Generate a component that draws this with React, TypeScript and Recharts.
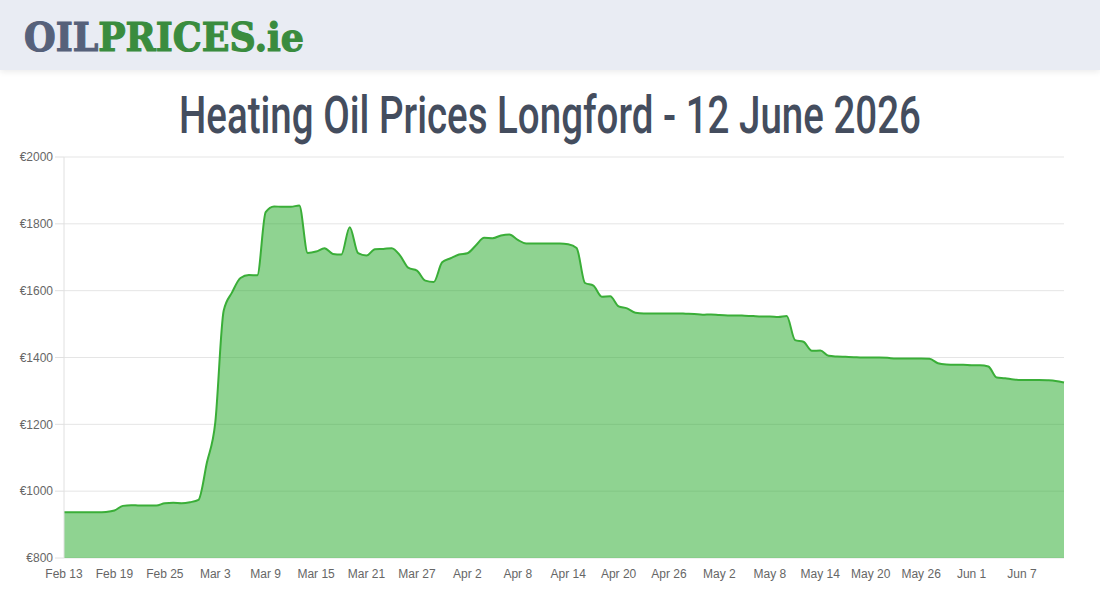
import { AreaChart, Area, XAxis, YAxis, CartesianGrid } from "recharts";

// ─────────────────────────────────────────────
//  Heating oil prices – Longford, daily, Feb 13 → Jun 12
// ─────────────────────────────────────────────

const DATES = [
  "Feb 13", "Feb 14", "Feb 15", "Feb 16", "Feb 17", "Feb 18", "Feb 19", "Feb 20",
  "Feb 21", "Feb 22", "Feb 23", "Feb 24", "Feb 25", "Feb 26", "Feb 27", "Feb 28",
  "Mar 1", "Mar 2", "Mar 3", "Mar 4", "Mar 5", "Mar 6", "Mar 7", "Mar 8",
  "Mar 9", "Mar 10", "Mar 11", "Mar 12", "Mar 13", "Mar 14", "Mar 15", "Mar 16",
  "Mar 17", "Mar 18", "Mar 19", "Mar 20", "Mar 21", "Mar 22", "Mar 23", "Mar 24",
  "Mar 25", "Mar 26", "Mar 27", "Mar 28", "Mar 29", "Mar 30", "Mar 31", "Apr 1",
  "Apr 2", "Apr 3", "Apr 4", "Apr 5", "Apr 6", "Apr 7", "Apr 8", "Apr 9",
  "Apr 10", "Apr 11", "Apr 12", "Apr 13", "Apr 14", "Apr 15", "Apr 16", "Apr 17",
  "Apr 18", "Apr 19", "Apr 20", "Apr 21", "Apr 22", "Apr 23", "Apr 24", "Apr 25",
  "Apr 26", "Apr 27", "Apr 28", "Apr 29", "Apr 30", "May 1", "May 2", "May 3",
  "May 4", "May 5", "May 6", "May 7", "May 8", "May 9", "May 10", "May 11",
  "May 12", "May 13", "May 14", "May 15", "May 16", "May 17", "May 18", "May 19",
  "May 20", "May 21", "May 22", "May 23", "May 24", "May 25", "May 26", "May 27",
  "May 28", "May 29", "May 30", "May 31", "Jun 1", "Jun 2", "Jun 3", "Jun 4",
  "Jun 5", "Jun 6", "Jun 7", "Jun 8", "Jun 9", "Jun 10", "Jun 11", "Jun 12",
];

// € per 1000L, one value per day
const PRICES = [
  937, 937, 937, 937, 937, 938, 942, 956,
  958, 957, 957, 957, 964, 965, 964, 967,
  974, 1085, 1205, 1540, 1595, 1638, 1647, 1646,
  1835, 1852, 1851, 1851, 1855, 1713, 1717, 1727,
  1710, 1708, 1790, 1712, 1705, 1724, 1725, 1727,
  1705, 1668, 1660, 1630, 1626, 1685, 1697, 1708,
  1712, 1735, 1758, 1757, 1765, 1768, 1752, 1741,
  1741, 1741, 1741, 1741, 1739, 1728, 1623, 1615,
  1582, 1583, 1553, 1547, 1534, 1532, 1532, 1532,
  1532, 1532, 1531, 1530, 1528, 1529, 1527, 1526,
  1526, 1525, 1524, 1523, 1523, 1521, 1524, 1452,
  1447, 1420, 1421, 1405, 1403, 1402, 1401, 1400,
  1400, 1400, 1399, 1397, 1397, 1397, 1397, 1396,
  1383, 1379, 1378, 1378, 1377, 1377, 1373, 1340,
  1338, 1334, 1333, 1333, 1333, 1332, 1330, 1325,
];

const Y_TICKS = [800, 1000, 1200, 1400, 1600, 1800, 2000];

const TITLE = "Heating Oil Prices Longford - 12 June 2026";

const data = DATES.map((date, i) => ({ date, price: PRICES[i] }));

const AXIS_TEXT = { fontSize: 12, fill: "#666666", fontFamily: "'Liberation Sans', Arial, sans-serif" };

function Header() {
  return (
    <div
      style={{
        position: "absolute",
        top: 0,
        left: 0,
        width: 1100,
        height: 70,
        background: "#e9ecf3",
        boxShadow: "0 2px 6px rgba(0,0,0,0.08)",
      }}
    >
      <svg width={1100} height={70} style={{ display: "block" }}>
        <text
          x={24}
          y={51}
          textLength={280}
          lengthAdjust="spacingAndGlyphs"
          style={{ fontFamily: "'DejaVu Serif', serif", fontWeight: 700, fontSize: 40 }}
        >
          <tspan fill="#56617a" stroke="#56617a" strokeWidth={1.2}>OIL</tspan>
          <tspan fill="#3a8c3e" stroke="#3a8c3e" strokeWidth={1.2}>PRICES.ie</tspan>
        </text>
      </svg>
    </div>
  );
}

export default function App() {
  return (
    <div style={{ position: "absolute", top: 0, left: 0, width: 1100, height: 600, background: "#fff", overflow: "hidden" }}>
      <AreaChart
        width={1100}
        height={600}
        data={data}
        margin={{ top: 157, right: 36, left: 0, bottom: 12 }}
      >
        <CartesianGrid stroke="#e5e5e5" vertical={false} />
        <XAxis
          dataKey="date"
          interval={5}
          tick={AXIS_TEXT}
          tickLine={false}
          axisLine={false}
          tickSize={8}
          tickMargin={3}
          height={30}
        />
        <YAxis
          domain={[800, 2000]}
          ticks={Y_TICKS}
          tickFormatter={(v: number) => `€${v}`}
          tick={AXIS_TEXT}
          tickLine={{ stroke: "#e0e0e0" }}
          axisLine={{ stroke: "#e0e0e0" }}
          tickSize={9}
          tickMargin={2}
          width={64}
        />
        <Area
          type="monotone"
          dataKey="price"
          stroke="#3aae38"
          strokeWidth={2}
          fill="rgb(40,170,45)"
          fillOpacity={0.52}
          dot={false}
          isAnimationActive={false}
        />
      </AreaChart>

      <Header />

      {/* page title: condensed look via horizontal squeeze + vertical stretch */}
      <svg width={1100} height={80} style={{ position: "absolute", top: 80, left: 0 }}>
        <text
          x={0}
          y={0}
          transform="translate(179 53) scale(1 1.3)"
          textLength={742}
          lengthAdjust="spacingAndGlyphs"
          fill="#444d5e"
          style={{ fontFamily: "Roboto, sans-serif", fontWeight: 500, fontSize: 40 }}
        >
          {TITLE}
        </text>
      </svg>
    </div>
  );
}
